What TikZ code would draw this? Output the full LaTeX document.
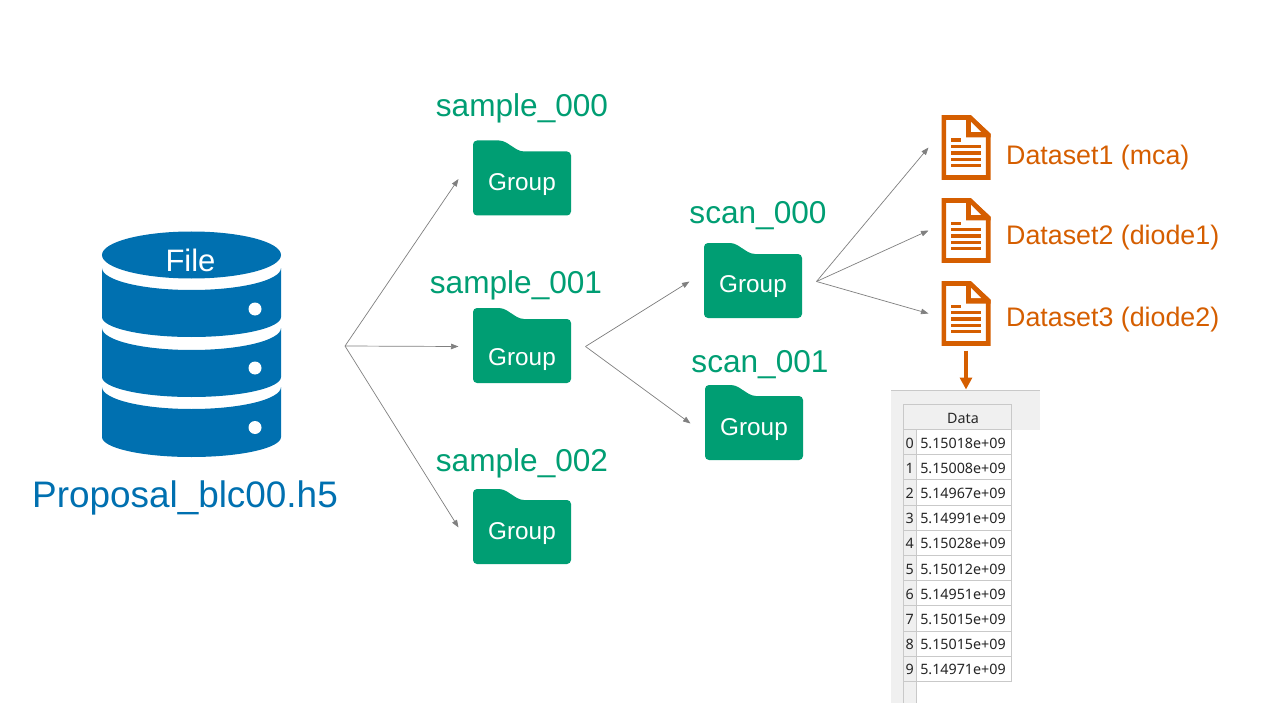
\documentclass[tikz,border=0pt]{standalone}
\usepackage{fontspec}
\setmainfont{Liberation Sans}
\newfontfamily\tablefont{Noto Sans}
\usetikzlibrary{arrows.meta,calc}
\definecolor{fileblue}{HTML}{0070B0}
\definecolor{groupgreen}{HTML}{009E73}
\definecolor{dataorange}{HTML}{D55E00}
\definecolor{linkgray}{HTML}{808080}
\definecolor{panelgray}{HTML}{F0F0F0}
\definecolor{gridgray}{HTML}{C9C9C9}
\definecolor{tabletext}{HTML}{262626}
\newcommand{\fsz}[1]{\fontsize{#1bp}{#1bp}\selectfont}
\tikzset{
  link/.style={draw=linkgray,line width=0.7bp,-{Triangle[length=7.5bp,width=5.5bp]}},
  hitbox/.style={inner sep=0pt,minimum width=98bp,minimum height=74.5bp,outer sep=14.5bp},
  dochit/.style={inner sep=0pt,minimum width=49bp,minimum height=64bp,outer sep=13bp},
  grouptext/.style={text=white,font=\fsz{24.3}},
  headtext/.style={text=groupgreen,font=\fsz{31.6}},
  datatext/.style={text=dataorange,font=\fsz{26.8},anchor=west,inner sep=0pt},
  cellbox/.style={draw=gridgray,line width=0.8bp,fill=white,inner sep=0pt,minimum width=95bp,minimum height=25.3bp},
  rowbox/.style={draw=gridgray,line width=0.8bp,fill=panelgray,inner sep=0pt,minimum width=13bp,minimum height=25.3bp},
  tabletxt/.style={inner sep=0pt,text=tabletext,font=\tablefont\fsz{14.3}},
}
% folder: name, centre x, centre y, label offset
\newcommand{\folder}[4]{%
  \fill[groupgreen,rounded corners=4bp] (#2-49,#3-37.5) -- (#2-19,#3-37.5) -- (#2-2,#3-26.5) -- (#2+49,#3-26.5) -- (#2+49,#3+37.5) -- (#2-49,#3+37.5) -- cycle;
  \node[hitbox] (#1) at (#2,#3+1) {};
  \node[grouptext] (#1t) at (#2,#3+#4) {Group};
}
% document icon: name, centre x, centre y
\newcommand{\docicon}[3]{%
  \begin{scope}[shift={(#2,#3)}]
    \draw[dataorange,line width=4.6bp,miter limit=4] (-22.2,-30) -- (4,-30) -- (22.2,-12.5) -- (22.2,30) -- (-22.2,30) -- cycle;
    \fill[dataorange] (0,-32) -- (5,-32) -- (24.5,-14) -- (24.5,-10) -- (0,-10) -- cycle;
    \fill[white] (5,-25.5) -- (15,-15.5) -- (5,-15.5) -- cycle;
    \fill[dataorange] (-15,-9) rectangle (-5,-5.8);
    \foreach \ly in {-2.5,3.8,10.2,16.5} \fill[dataorange] (-15,\ly) rectangle (15,\ly+3.3);
  \end{scope}
  \node[dochit] (#1) at (#2,#3) {};
}
% one band of the database: top y at the sides, bottom y at the sides
\newcommand{\dbband}[2]{%
  \fill[fileblue] (102,#1) .. controls (102,#1+12.2) and (142,#1+22) .. (191.5,#1+22) .. controls (241,#1+22) and (281,#1+12.2) .. (281,#1) -- (281,#2) .. controls (281,#2+11) and (241,#2+20) .. (191.5,#2+20) .. controls (142,#2+20) and (102,#2+11) .. (102,#2) -- cycle;
}
\begin{document}
\begin{tikzpicture}[x=1bp,y=-1bp]
\useasboundingbox (0,0) rectangle (1280,720);
\fill[white] (0,0) rectangle (1280,720);

% database
\fill[fileblue] (191.5,255) ellipse [x radius=89.5bp,y radius=23.5bp];
\dbband{268}{317}
\dbband{328}{377}
\dbband{387}{437}
\fill[white] (255,309) circle[radius=6.5bp];
\fill[white] (255,368) circle[radius=6.5bp];
\fill[white] (255,427.5) circle[radius=6.5bp];
\node[text=white,font=\fsz{31}] (filelabel) at (190.5,260) {File};
\node[text=fileblue,font=\fsz{36.9}] (filename) at (185,497.5) {Proposal\_blc00.h5};
\coordinate (hub) at (345,346);

% groups
\folder{ga}{522}{178}{7}
\folder{gb}{522}{345.5}{14}
\folder{gc}{522}{526.5}{7}
\folder{sa}{753}{280.5}{6}
\folder{sb}{754}{422.5}{7}
\node[headtext] (galabel) at (522,108.5) {sample\_000};
\node[headtext] (gblabel) at (516,285) {sample\_001};
\node[headtext] (gclabel) at (522,463.5) {sample\_002};
\node[headtext] (salabel) at (758,216) {scan\_000};
\node[headtext] (sblabel) at (760,365) {scan\_001};

% datasets
\docicon{da}{966}{147.5}
\docicon{db}{966}{230.5}
\docicon{dc}{966}{313.5}
\node[datatext] (dalabel) at (1006,158) {Dataset1 (mca)};
\node[datatext] (dblabel) at (1006,238) {Dataset2 (diode1)};
\node[datatext] (dclabel) at (1006,320) {Dataset3 (diode2)};

% links
\draw[link] (hub) -- (ga.west);
\draw[link] (hub) -- (gb.west);
\draw[link] (hub) -- (gc.west);
\draw[link] (gb.east) -- (sa.west);
\draw[link] (gb.east) -- (sb.west);
\draw[link] (sa.east) -- (da.west);
\draw[link] (sa.east) -- (db.west);
\draw[link] (sa.east) -- (dc.west);

% table panel
\fill[panelgray] (891,390) rectangle (1040,430);
\fill[panelgray] (891,430) rectangle (903,703);
\fill[panelgray] (903,682) rectangle (916,703);
\draw[gridgray,line width=1.4bp] (891,390.5) -- (1040,390.5);
\draw[gridgray,line width=0.8bp] (903,404) -- (903,703);
\draw[gridgray,line width=0.8bp] (916,682) -- (916,703);
\node[draw=gridgray,line width=0.8bp,fill=panelgray,inner sep=0pt,minimum width=108bp,minimum height=25.3bp] (datahead) at (957,416.7) {};
\node[tabletxt] (datatitle) at (963,418) {Data};
\coordinate (tabletop) at (966,389.5);
\draw[dataorange,line width=3.6bp,-{Triangle[length=12bp,width=12bp]}] ($(dc.south)+(0,-8)$) -- (tabletop);
\foreach \i/\v in {0/5.15018e+09,1/5.15008e+09,2/5.14967e+09,3/5.14991e+09,4/5.15028e+09,5/5.15012e+09,6/5.14951e+09,7/5.15015e+09,8/5.15015e+09,9/5.14971e+09}{
  \node[rowbox] (row\i) at (909.5,442+25.2*\i) {};
  \node[cellbox] (val\i) at (963.5,442+25.2*\i) {};
  \node[tabletxt] (rowt\i) at (909.8,443+25.2*\i) {\i};
  \node[tabletxt] (valt\i) at (963,443+25.2*\i) {\v};
}
\end{tikzpicture}
\end{document}
